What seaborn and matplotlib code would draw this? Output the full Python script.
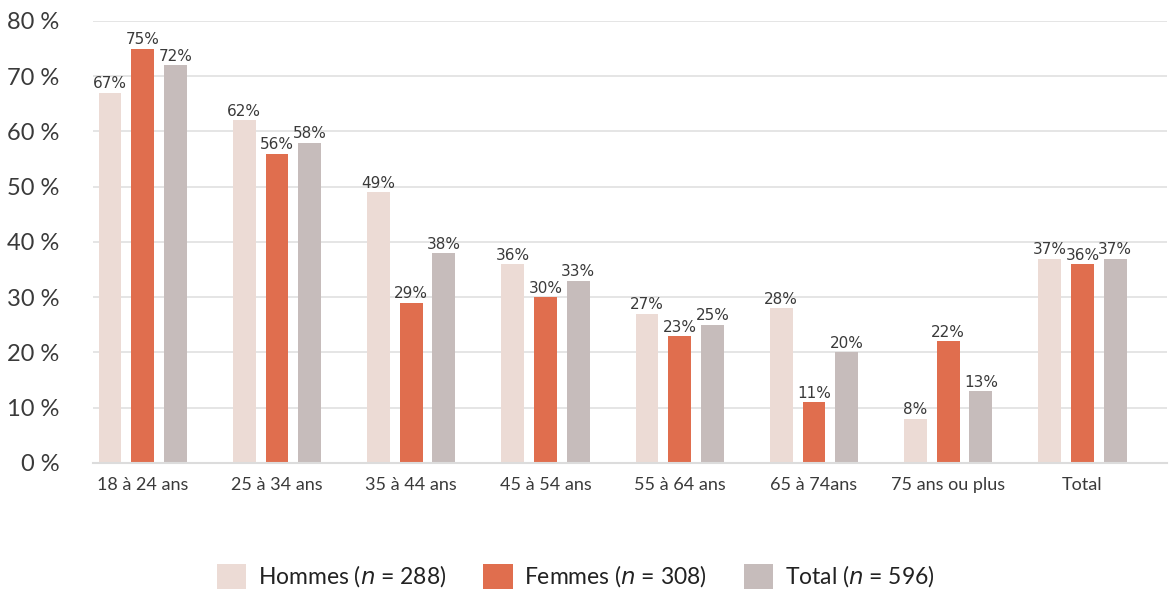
import matplotlib
matplotlib.use("Agg")
import matplotlib.pyplot as plt
import seaborn as sns
import pandas as pd
from matplotlib.patches import Patch

# Age groups and share (%) per group
categories = ["18 à 24 ans", "25 à 34 ans", "35 à 44 ans", "45 à 54 ans",
              "55 à 64 ans", "65 à 74ans", "75 ans ou plus", "Total"]
hommes = [67, 62, 49, 36, 27, 28, 8, 37]
femmes = [75, 56, 29, 30, 23, 11, 22, 36]
total = [72, 58, 38, 33, 25, 20, 13, 37]
series = ["Hommes", "Femmes", "Total"]
legend_labels = ["Hommes ($\\it{n}$ = 288)", "Femmes ($\\it{n}$ = 308)", "Total ($\\it{n}$ = 596)"]
y_ticks = [0, 10, 20, 30, 40, 50, 60, 70, 80]

colors = ["#ecdbd5", "#e06e4e", "#c6bcbb"]
text_color = "#3a3a3a"

df = pd.DataFrame({
    "cat": categories * 3,
    "serie": [s for s in series for _ in categories],
    "val": hommes + femmes + total,
})

sns.set_theme(style="white")
plt.rcParams["font.family"] = ["Lato", "DejaVu Sans"]

fig = plt.figure(figsize=(11.7, 5.91), dpi=100)
ax = fig.add_axes([0.0795, 0.2166, 0.918, 0.7479])

sns.barplot(data=df, x="cat", y="val", hue="serie", order=categories,
            hue_order=series, palette=colors, width=0.73, gap=0.3,
            saturation=1, legend=False, ax=ax, edgecolor="none")

for cont in ax.containers:
    ax.bar_label(cont, labels=[f"{v:.0f}%" for v in cont.datavalues],
                 padding=1, fontsize=11, color=text_color,
                 family=["DejaVu Sans"])

ax.set_xlim(-0.37, 7.63)
ax.set_ylim(0, 80)
ax.set_yticks(y_ticks)
ax.set_yticklabels([f"{t} %" for t in y_ticks], fontsize=17, color=text_color)
ax.tick_params(axis="y", length=0, pad=24)
ax.tick_params(axis="x", length=0, pad=10, labelsize=13, labelcolor=text_color)
ax.set_xlabel("")
ax.set_ylabel("")
ax.yaxis.grid(True, color="#e3e3e3", linewidth=1.3)
ax.set_axisbelow(True)
for s in ["left", "right", "top"]:
    ax.spines[s].set_visible(False)
ax.spines["bottom"].set_color("#dcdcdc")
ax.spines["bottom"].set_linewidth(1.5)

handles = [Patch(facecolor=c, edgecolor="none") for c in colors]
fig.legend(handles, legend_labels, loc="center", bbox_to_anchor=(0.492, 0.025),
           ncol=3, frameon=False, fontsize=16.5, handlelength=1.3,
           handleheight=1.3, handletextpad=0.5, columnspacing=1.6,
           labelcolor="#222222")

fig.savefig("out.png", dpi=100)
